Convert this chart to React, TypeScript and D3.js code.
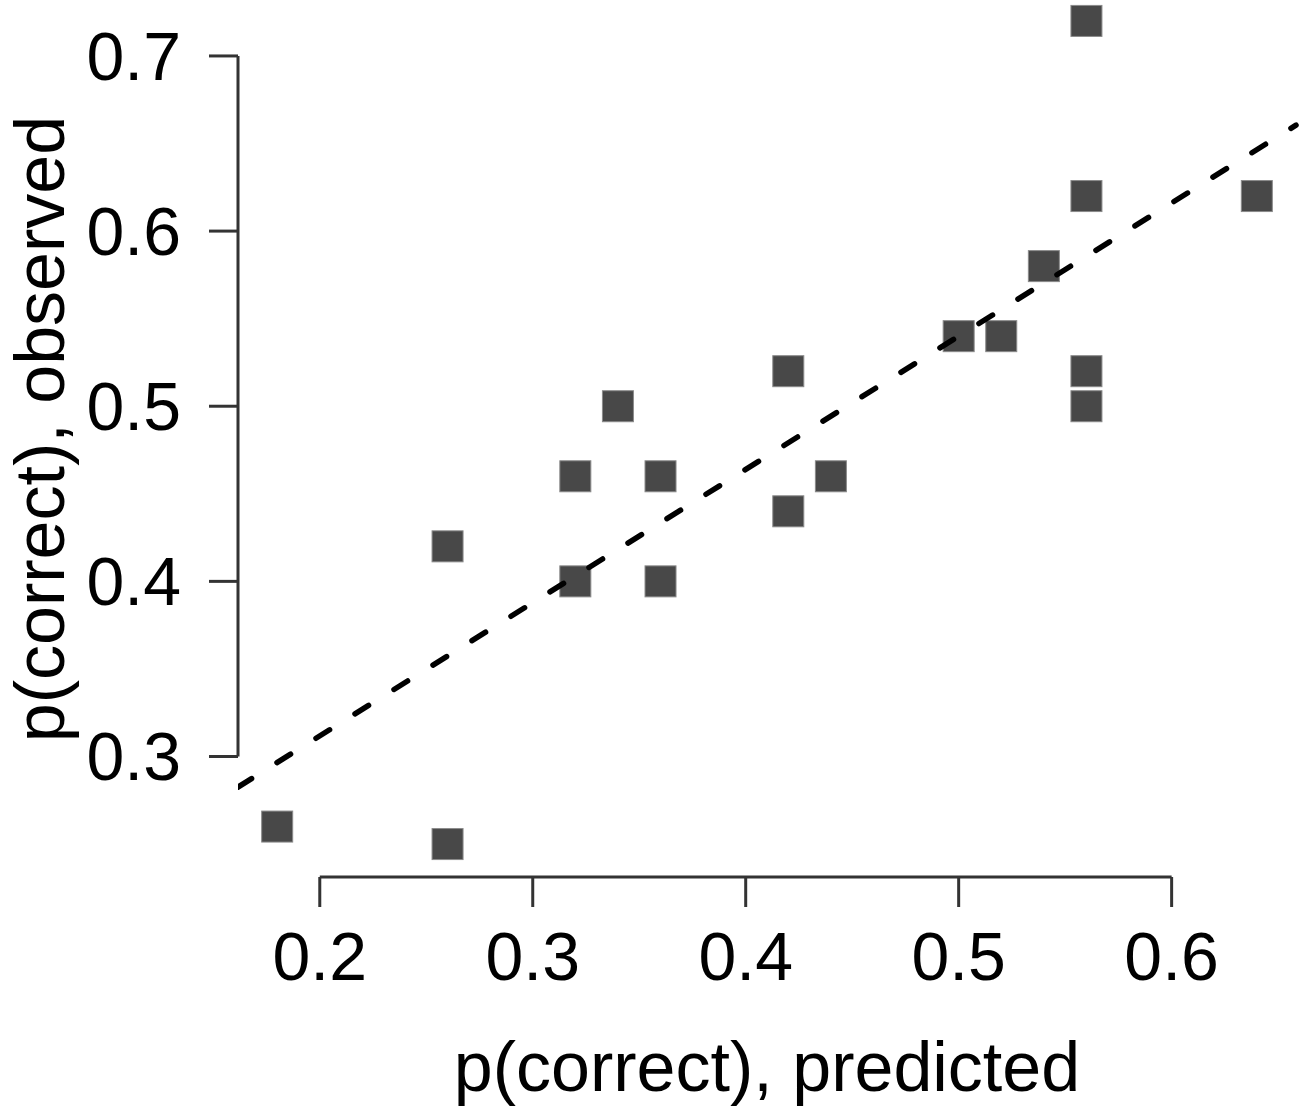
import React from "react";
import * as d3 from "d3";

// Data
const predicted = [0.56, 0.56, 0.64, 0.54, 0.50, 0.52, 0.56, 0.56, 0.42, 0.34, 0.32, 0.36, 0.44, 0.42, 0.26, 0.32, 0.36, 0.18, 0.26];
const observed = [0.72, 0.62, 0.62, 0.58, 0.54, 0.54, 0.52, 0.50, 0.52, 0.50, 0.46, 0.46, 0.46, 0.44, 0.42, 0.40, 0.40, 0.26, 0.25];
const xTicks = [0.2, 0.3, 0.4, 0.5, 0.6];
const yTicks = [0.3, 0.4, 0.5, 0.6, 0.7];
const xLabel = "p(correct), predicted";
const yLabel = "p(correct), observed";

const W = 1300;
const H = 1116;
const FONT = "'Liberation Sans', Arial, Helvetica, sans-serif";

function pad(ext: [number, number]): [number, number] {
  const r = ext[1] - ext[0];
  return [ext[0] - 0.04 * r, ext[1] + 0.04 * r];
}

export default function App() {
  const xDom = pad(d3.extent(predicted) as [number, number]);
  const yDom = pad(d3.extent(observed) as [number, number]);
  const left = 238;
  const right = 1296;
  const bottom = 877;
  const top = -12;
  const x = d3.scaleLinear().domain(xDom).range([left, right]);
  const y = d3.scaleLinear().domain(yDom).range([bottom, top]);

  // least-squares fit
  const mx = d3.mean(predicted)!;
  const my = d3.mean(observed)!;
  let sxy = 0, sxx = 0;
  predicted.forEach((v, i) => {
    sxy += (v - mx) * (observed[i] - my);
    sxx += (v - mx) * (v - mx);
  });
  const slope = sxy / sxx;
  const intercept = my - slope * mx;
  const fitLine = d3.line<number>().x((v) => x(v)).y((v) => y(intercept + slope * v));

  const sq = 31;
  const tick = 29;

  return (
    <svg width={W} height={H} style={{ position: "absolute", left: 0, top: 0, background: "#fff" }}>
      <defs>
        <clipPath id="plotclip">
          <rect x={left} y={0} width={right - left + 4} height={bottom} />
        </clipPath>
      </defs>
      {/* y axis */}
      <line x1={left} x2={left} y1={y(yTicks[0])} y2={y(yTicks[yTicks.length - 1])} stroke="#333" strokeWidth={3} />
      {yTicks.map((t) => (
        <g key={"y" + t}>
          <line x1={left - tick} x2={left} y1={y(t)} y2={y(t)} stroke="#333" strokeWidth={3} />
          <text x={181} y={y(t)} dy="0.35em" textAnchor="end" fontFamily={FONT} fontSize={68} fill="#000">
            {t.toFixed(1)}
          </text>
        </g>
      ))}
      {/* x axis */}
      <line x1={x(xTicks[0])} x2={x(xTicks[xTicks.length - 1])} y1={bottom} y2={bottom} stroke="#333" strokeWidth={3} />
      {xTicks.map((t) => (
        <g key={"x" + t}>
          <line x1={x(t)} x2={x(t)} y1={bottom} y2={bottom + tick + 1} stroke="#333" strokeWidth={3} />
          <text x={x(t)} y={980} textAnchor="middle" fontFamily={FONT} fontSize={68} fill="#000">
            {t.toFixed(1)}
          </text>
        </g>
      ))}
      {/* points */}
      {predicted.map((v, i) => (
        <rect
          key={"p" + i}
          x={x(v) - sq / 2}
          y={y(observed[i]) - sq / 2}
          width={sq}
          height={sq}
          fill="#484848"
          stroke="#8a8a8a"
          strokeWidth={1}
        />
      ))}
      {/* fit line */}
      <path
        d={fitLine(xDom) || ""}
        fill="none"
        stroke="#000"
        strokeWidth={5.5}
        strokeDasharray="16 30"
        strokeLinecap="round"
        clipPath="url(#plotclip)"
      />
      {/* titles */}
      <text x={(left + right) / 2} y={1091} textAnchor="middle" fontFamily={FONT} fontSize={70} fill="#000">
        {xLabel}
      </text>
      <text
        transform={`translate(64, 429) rotate(-90)`}
        textAnchor="middle"
        fontFamily={FONT}
        fontSize={70}
        fill="#000"
      >
        {yLabel}
      </text>
    </svg>
  );
}
